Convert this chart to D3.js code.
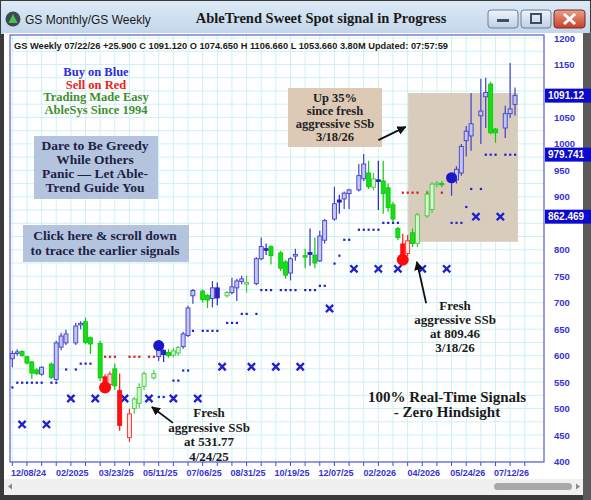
<!DOCTYPE html>
<html><head><meta charset="utf-8">
<script src="https://cdn.jsdelivr.net/npm/d3@7"></script>
<style>body{margin:0;background:#fff}svg{display:block}</style>
</head><body><svg id="c" width="591" height="500"></svg>
<script>
// ---------------- DATA ----------------
const trend = ['b','b','g','g','g','g','b',null,'g','b','b','b',null,'b','b','g','g',null,'g','r',
 'r','g','r',null,'r','g','g','g',null,'g','b','b','g','g','g','b','b','b',null,'g',
 'g','b','b',null,'g','b','b','b','g',null,'b','b','b','g',null,'g','g','b','b',null,
 'g','b','g','b','b',null,'b','b','b','b',null,'b','b','g','g','b','g','g','g','g',
 'r','r','g','g',null,'g','g','g','g',null,'b','b','b','b','b',null,'b','b','g','g',
 null,'b','b','b'];
const open = [594,604,608,598,588,573,565,null,584,555,616,624,null,624,658,664,634,null,623,560,
 545,575,534,null,445,500,510,542,null,558,598,610,606,601,605,617,638,713,null,722,
 714,708,728,null,713,719,728,740,735,null,736,783,802,806,null,794,777,756,788,null,
 789,795,790,779,818,null,858,894,896,906,null,913,934,945,918,932,930,917,885,840,
 811,793,832,812,null,864,876,924,925,null,930,932,945,1006,1015,null,1053,1089,1113,1028,
 null,1030,1057,1074.65];
const high = [609,612,610,600,590,576,580,null,587,628,643,649,null,662,665,672,636,null,628,565,
 570,585,566,null,500,522,548,570,null,573,622,612,612,615,618,645,694,726,null,725,
 716,741,738,null,722,747,745,751,751,null,786,823,812,808,null,798,780,786,802,null,
 802,840,823,836,858,null,919,904,910,915,null,962,981,968,945,968,968,925,890,843,
 830,828,840,870,null,912,928,930,930,null,942,958,1000,1034,1096,null,1123,1125,1117,1030,
 null,1072,1153,1106.66];
const low = [578,600,598,583,556,563,562,null,556,552,610,620,null,620,650,622,603,null,552,535,
 538,535,458,null,437,490,500,535,null,555,590,588,596,597,600,613,635,698,null,700,
 690,691,695,null,710,716,703,735,719,null,733,780,790,772,null,760,745,742,779,null,
 765,770,765,777,812,null,855,868,877,877,null,910,930,915,912,875,868,872,852,818,
 778,788,805,805,null,860,870,918,918,null,902,925,940,976,987,null,1000,1030,1018,1002,
 null,1011,1049,1053.66];
const close = [604,607,600,586,567,566,578,null,559,624,637,641,null,656,661,625,622,null,558,545,
 565,543,468,null,490,518,540,566,null,566,612,602,600,609,615,641,690,723,null,706,
 705,728,709,null,719,730,741,745,738,null,783,806,799,789,null,765,752,783,791,null,
 786,791,775,826,855,null,887,890,907,913,null,940,962,919,934,929,906,880,858,823,
 783,817,812,866,null,905,924,926,924,null,938,952,995,1024,1038,null,1062,1097,1021,1021,
 null,1057,1066,1091.12];
// AbleTrend stop dots (one per weekly slot)
const blueStopSlots = [0,1,2,3,4,5,6,8,9,11,13,14,15,16,30,31,33,34,35,36,37,39,40,41,42,44,45,46,47,48,50,
 51,52,53,55,56,57,58,60,61,62,63,64,66,67,68,69,71,72,73,74,75,76,77,78,79,90,91,92,93,94,96,97,98,99,101,102,103];
const blueStopValues = [540,549,549,549,549,549,549,549,549,574,574,585,585,585,522,522,553,553,572,572,647,647,647,647,647,662,662,662,679,679,679,
 724,724,724,724,724,724,724,724,724,724,732,732,774,789,819,819,838,838,838,838,838,851,851,851,851,851,851,851,881,915,915,979.741,979.741,979.741,979.741,979.741,979.741];
const redStopSlots = [19,20,21,24,25,26,28,29,80,81,82,83,85,86,88];
const redStopValues = [598,598,598,598,598,598,598,598,908,908,908,908,908,908,908];
// monthly X markers
const xMarkSlots = [2,7,12,17,23,28,33,38,43,49,54,59,65,70,75,79,84,89,95,100];
const xMarkValues = [470,470,519,519,519,519,519,519,579,579,579,579,689,764,764,764,764,764,862.469,862.469];
// signal circles
const signalSlots = [19,30,80,90];
const signalPrices = [540,619,781,936];
const signalTypes = ['sell','buy','sell','buy'];
// axes
const xTickLabels = ["12/08/24","02/2025","03/23/25","05/11/25","07/06/25","08/31/25","10/19/25","12/07/25","02/2026","04/2026","05/24/26","07/12/26"];
const xTickLabelSlots = [3,12,21,30,39,48,57,66,75,84,93,102];
const yTickValues = d3.range(400,1201,50).filter(v=>v!==850 && v!==1100);
const priceTags = [1091.12, 979.741, 862.469];

// ---------------- LAYOUT ----------------
const svg = d3.select('#c');
const W=591,H=500;
const plot = {l:10, r:544, t:35, b:462};
const x = d3.scaleLinear().domain([0,103]).range([12.3, 515]);
const y = d3.scaleLinear().domain([400,1200]).range([461.5, 38]);

const defs = svg.append('defs');
const tg = defs.append('linearGradient').attr('id','tbar').attr('x1',0).attr('y1',0).attr('x2',0).attr('y2',1);
tg.append('stop').attr('offset','0').attr('stop-color','#dce9f6');
tg.append('stop').attr('offset','1').attr('stop-color','#c3d6ea');
const bg = defs.append('linearGradient').attr('id','btn').attr('x1',0).attr('y1',0).attr('x2',0).attr('y2',1);
bg.append('stop').attr('offset','0').attr('stop-color','#eef4fb');
bg.append('stop').attr('offset','1').attr('stop-color','#bfd0e4');
const cg = defs.append('linearGradient').attr('id','cls').attr('x1',0).attr('y1',0).attr('x2',0).attr('y2',1);
cg.append('stop').attr('offset','0').attr('stop-color','#e8a08c');
cg.append('stop').attr('offset','1').attr('stop-color','#c7402a');
defs.append('marker').attr('id','ah').attr('viewBox','0 0 10 10').attr('refX',9).attr('refY',5)
 .attr('markerWidth',5).attr('markerHeight',5).attr('orient','auto')
 .append('path').attr('d','M0,0 L10,5 L0,10 z').attr('fill','#111');

// window frame
svg.append('rect').attr('width',W).attr('height',H).attr('fill','#3a3a3a');
svg.append('rect').attr('x',1).attr('y',1).attr('width',W-2).attr('height',33).attr('fill','url(#tbar)');
svg.append('rect').attr('x',4).attr('y',33).attr('width',579).attr('height',446).attr('fill','#ffffff');
// scrollbar
svg.append('rect').attr('x',4).attr('y',479).attr('width',579).attr('height',16).attr('fill','#f0f0f0');
svg.append('rect').attr('x',494).attr('y',483).attr('width',78).attr('height',7).attr('rx',3.5).attr('fill','#a9a9a9');
svg.append('path').attr('d','M8,486.5 L12,483.5 L12,489.5 z').attr('fill','#8a8a8a');
svg.append('path').attr('d','M580,486.5 L576,483.5 L576,489.5 z').attr('fill','#8a8a8a');
svg.append('rect').attr('x',583).attr('y',33).attr('width',8).attr('height',467).attr('fill','#5a5a5a');

// title bar
const ic = svg.append('g').attr('transform','translate(13,19)');
ic.append('circle').attr('r',7.5).attr('fill','#3d4a52');
ic.append('path').attr('d','M0,-5 L4.5,4 L-4.5,4 z').attr('fill','#4fc24a');
svg.append('text').attr('x',25).attr('y',24).attr('font-family','Liberation Sans, Arial, sans-serif')
 .attr('font-size',12).attr('fill','#1a1a1a').text('GS  Monthly/GS  Weekly');
svg.append('text').attr('x',321).attr('y',23).attr('text-anchor','middle').attr('font-family','Liberation Serif, Times New Roman, serif')
 .attr('font-weight','bold').attr('font-size',14.5).attr('fill','#1a1a1a').text('AbleTrend Sweet Spot signal in Progress');
// buttons
svg.append('rect').attr('x',488).attr('y',10).attr('width',30).attr('height',18).attr('rx',3).attr('fill','url(#btn)').attr('stroke','#6d7f96');
svg.append('rect').attr('x',497).attr('y',19).attr('width',12).attr('height',3).attr('fill','#3d4f68');
svg.append('rect').attr('x',521).attr('y',10).attr('width',30).attr('height',18).attr('rx',3).attr('fill','url(#btn)').attr('stroke','#6d7f96');
svg.append('rect').attr('x',531).attr('y',14).attr('width',10).attr('height',9).attr('fill','none').attr('stroke','#3d4f68').attr('stroke-width',2);
svg.append('rect').attr('x',554).attr('y',10).attr('width',31).attr('height',18).attr('rx',3).attr('fill','url(#cls)').attr('stroke','#7a2a1c');
svg.append('path').attr('d','M564,14 L575,24 M575,14 L564,24').attr('stroke','#fff').attr('stroke-width',3);

// ---------------- PLOT ----------------
const gridC = '#cdf1f3';
const gGrid = svg.append('g');
d3.range(0,106,3).forEach(s=>{ if(x(s)>plot.l && x(s)<plot.r) gGrid.append('line').attr('x1',x(s)).attr('x2',x(s)).attr('y1',plot.t).attr('y2',plot.b).attr('stroke',gridC); });
d3.range(400,1201,25).forEach(v=>{ gGrid.append('line').attr('x1',plot.l).attr('x2',plot.r).attr('y1',y(v)).attr('y2',y(v)).attr('stroke',gridC); });

// highlight box
svg.append('rect').attr('x',x(81.1)).attr('y',y(1096)).attr('width',x(103.6)-x(81.1)).attr('height',y(815)-y(1096))
 .attr('fill','#d8ccbc');

// frame
svg.append('rect').attr('x',plot.l).attr('y',plot.t).attr('width',plot.r-plot.l).attr('height',plot.b-plot.t)
 .attr('fill','none').attr('stroke','#5a5ad8').attr('stroke-width',1.2);

// header
svg.append('text').attr('x',14).attr('y',49).attr('font-family','Liberation Sans, Arial, sans-serif').attr('font-weight','bold')
 .attr('font-size',9.5).attr('fill','#1a1a1a').attr('textLength',434).attr('lengthAdjust','spacingAndGlyphs')
 .text('GS  Weekly 07/22/26 +25.900 C 1091.120 O 1074.650 H 1106.660 L 1053.660 3.80M Updated: 07:57:59');

// stop dots
const gStops = svg.append('g');
gStops.selectAll('.bs').data(blueStopSlots).enter().append('rect')
 .attr('x',(s)=>x(s)-1).attr('y',(s,i)=>y(blueStopValues[i])-1).attr('width',2.2).attr('height',2.2).attr('fill','#1f1fcf');
gStops.selectAll('.rs').data(redStopSlots).enter().append('rect')
 .attr('x',(s)=>x(s)-1).attr('y',(s,i)=>y(redStopValues[i])-1).attr('width',2.2).attr('height',2.2).attr('fill','#e01818');

// X markers
const gX = svg.append('g');
xMarkSlots.forEach((s,i)=>{
  const cx=x(s), cy=y(xMarkValues[i]), d=3.6;
  gX.append('path').attr('d',`M${cx-d},${cy-d}L${cx+d},${cy+d}M${cx+d},${cy-d}L${cx-d},${cy+d}`)
   .attr('stroke','#1f1fcf').attr('stroke-width',2.3);
});

// candles
const style = {
  b:{up:{fill:'#c4c4f4',stroke:'#4040cc'}, dn:{fill:'#2424c4',stroke:'#2424c4'}},
  g:{up:{fill:'#d4f7cc',stroke:'#48c848'}, dn:{fill:'#14e014',stroke:'#10c810'}},
  r:{up:{fill:'#ffe4e4',stroke:'#ff2a2a'}, dn:{fill:'#ff1010',stroke:'#ff1010'}}
};
const gC = svg.append('g');
trend.forEach((t,i)=>{
  if(!t) return;
  const up = close[i]>=open[i];
  const st = style[t][up?'up':'dn'];
  const cx = x(i);
  gC.append('line').attr('x1',cx).attr('x2',cx).attr('y1',y(high[i])).attr('y2',y(low[i])).attr('stroke',st.stroke).attr('stroke-width',1.2);
  const top = y(Math.max(open[i],close[i])), bot = y(Math.min(open[i],close[i]));
  gC.append('rect').attr('x',cx-2).attr('y',top).attr('width',4).attr('height',Math.max(1.2,bot-top))
   .attr('fill',st.fill).attr('stroke',st.stroke).attr('stroke-width',0.9);
});

// signals
signalSlots.forEach((s,i)=>{
  svg.append('circle').attr('cx',x(s)).attr('cy',y(signalPrices[i])).attr('r',signalTypes[i]==='sell'?6:5.5)
   .attr('fill',signalTypes[i]==='sell'?'#ff0a0a':'#1818c8');
});

// x axis
const gXA = svg.append('g');
d3.range(0,106,3).forEach(s=>{ if(x(s)>plot.l && x(s)<plot.r) gXA.append('line').attr('x1',x(s)).attr('x2',x(s)).attr('y1',plot.b).attr('y2',plot.b+4).attr('stroke','#4a4ad6'); });
xTickLabels.forEach((lab,i)=>{
  gXA.append('text').attr('x',x(xTickLabelSlots[i])+1.5).attr('y',476).attr('text-anchor','middle')
   .attr('font-family','Liberation Sans, Arial, sans-serif').attr('font-weight','bold').attr('font-size',9)
   .attr('fill','#3434d4').text(lab);
});
// y axis labels
yTickValues.forEach(v=>{
  svg.append('text').attr('x',554).attr('y',y(v)+3.5).attr('font-family','Liberation Sans, Arial, sans-serif')
   .attr('font-weight','bold').attr('font-size',9.5).attr('fill','#3434d4').text(v);
});
priceTags.forEach(v=>{
  svg.append('rect').attr('x',545).attr('y',y(v)-7).attr('width',46).attr('height',14).attr('fill','#0a0ad2');
  svg.append('text').attr('x',548).attr('y',y(v)+3.5).attr('font-family','Liberation Sans, Arial, sans-serif')
   .attr('font-weight','bold').attr('font-size',10).attr('fill','#fffbe0').text(v);
});

// ---------------- ANNOTATIONS ----------------
const serif='Liberation Serif, Times New Roman, serif';
function lines(cx, y0, dy, arr, size, color, anchor){
  arr.forEach((t,i)=>svg.append('text').attr('x',cx).attr('y',y0+i*dy).attr('text-anchor',anchor||'middle')
   .attr('font-family',serif).attr('font-weight','bold').attr('font-size',size).attr('fill',color).text(t));
}
svg.append('text').attr('x',96).attr('y',76).attr('text-anchor','middle').attr('font-family',serif).attr('font-weight','bold').attr('font-size',12.5).attr('fill','#2a2ae6').text('Buy on Blue');
svg.append('text').attr('x',96).attr('y',88.5).attr('text-anchor','middle').attr('font-family',serif).attr('font-weight','bold').attr('font-size',12.5).attr('fill','#ee1c1c').text('Sell on Red');
svg.append('text').attr('x',96).attr('y',101).attr('text-anchor','middle').attr('font-family',serif).attr('font-weight','bold').attr('font-size',12.5).attr('fill','#3f8f2f').text('Trading Made Easy');
svg.append('text').attr('x',96).attr('y',113.5).attr('text-anchor','middle').attr('font-family',serif).attr('font-weight','bold').attr('font-size',12.5).attr('fill','#3f8f2f').text('AbleSys Since 1994');

svg.append('rect').attr('x',34).attr('y',136).attr('width',124).attr('height',63).attr('fill','#b5c4de');
lines(95,150,14,['Dare to Be Greedy','While Others','Panic — Let Able-','Trend Guide You'],13.5,'#1c2244');
svg.append('rect').attr('x',23).attr('y',225).attr('width',166).attr('height',37).attr('fill','#b5c4de');
lines(105,240,15,['Click here & scroll down','to trace the earlier signals'],13.5,'#1c2244');

svg.append('rect').attr('x',288).attr('y',88).attr('width',94).attr('height',59).attr('fill','#dcc9b6');
lines(335,101.5,13.2,['Up 35%','since fresh','aggressive SSb','3/18/26'],12.5,'#222');

lines(209,417,14.5,['Fresh','aggressive SSb','at 531.77','4/24/25'],13,'#1a1a1a');
lines(455,310,14,['Fresh','aggressive SSb','at 809.46','3/18/26'],13,'#1a1a1a');
lines(447,402,15,['100% Real-Time Signals','- Zero Hindsight'],15,'#1a1a1a');

function arrow(s1,p1,s2,p2){
  svg.append('line').attr('x1',x(s1)).attr('y1',y(p1)).attr('x2',x(s2)).attr('y2',y(p2))
   .attr('stroke','#111').attr('stroke-width',1.8).attr('marker-end','url(#ah)');
}
arrow(75,1007,80.6,1032);
arrow(84.8,699,82.9,777);
arrow(32.9,473,28.6,503);
</script></body></html>
